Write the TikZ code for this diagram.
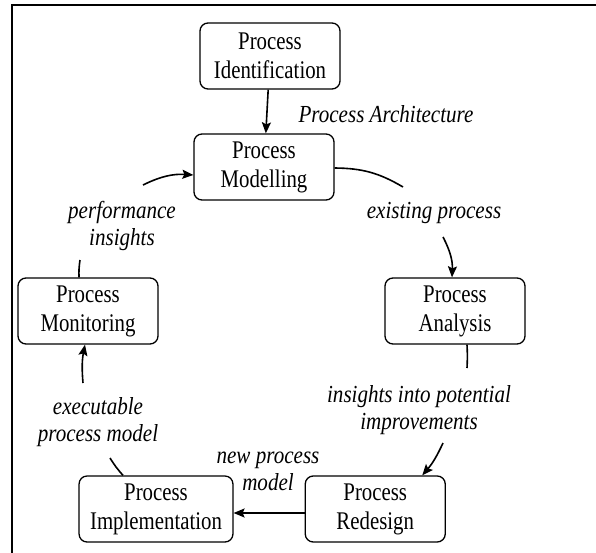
\documentclass[tikz,border=0pt]{standalone}
\usepackage{fontspec}
\setmainfont[FakeStretch=0.82, ItalicFeatures={FakeStretch=0.86}]{Liberation Serif}
\usetikzlibrary{arrows.meta,positioning}

\begin{document}
\begin{tikzpicture}[x=1pt, y=1pt,
  stage/.style={draw, rounded corners=8pt, line width=1.3pt, minimum width=140pt, minimum height=66pt, inner xsep=11pt, align=center, font=\fontsize{25.4}{29}\selectfont},
  tag/.style={align=center, font=\fontsize{24.5}{27}\selectfont\itshape},
  arr/.style={-{Stealth[length=11pt, width=9pt, inset=2pt]}, line width=1.6pt},
  seg/.style={line width=1.6pt}
]
  \useasboundingbox (0,0) rectangle (596,-553);
  \draw[line width=1.5pt] (12,-553) -- (12,-5) -- (596,-5);

  \node[stage] (model) at (264,-167) {Process\\Modelling};
  \node[stage] (ident) at (270,-56) {Process\\Identification};
  \node[stage] (mon) at (88,-311) {Process\\Monitoring};
  \node[stage] (ana) at (455,-311) {Process\\Analysis};
  \node[stage] (impl) at (156,-509) {Process\\Implementation};
  \node[stage, right=71pt of impl] (red) {Process\\Redesign};

  \node[tag] (arch) at (386,-114) {Process Architecture};
  \node[tag] (perf) at (122,-226) {performance\\insights};
  \node[tag] (exist) at (434,-213) {existing process};
  \node[tag] (potent) at (419,-410) {insights into potential\\improvements};
  \node[tag] (newmod) at (268,-471) {new process\\model};
  \node[tag] (exec) at (98,-422) {executable\\process model};

  \coordinate (p1) at (80,-260);
  \coordinate (p2) at (143,-185);
  \coordinate (q1) at (403,-187);
  \coordinate (q2) at (443,-237);
  \coordinate (r1) at (467,-368);
  \coordinate (r2) at (443,-443);
  \coordinate (s1) at (110,-458);
  \coordinate (s2) at (83,-383);

  \draw[arr] (ident) -- (model);
  \draw[seg] ([xshift=-9pt]mon.north) to[bend left=5] (p1);
  \draw[arr] (p2) to[bend left=15] ([yshift=-8pt]model.west);
  \draw[seg] ([yshift=-1pt]model.east) to[bend left=15] (q1);
  \draw[arr] (q2) to[bend left=15] ([xshift=-3pt]ana.north);
  \draw[seg] ([xshift=12pt]ana.south) to[bend left=3] (r1);
  \draw[arr] (r2) to[bend left=8] ([xshift=47pt]red.north);
  \draw[arr] ([yshift=-4pt]red.west) -- ([yshift=-4pt]impl.east);
  \draw[seg] ([xshift=-33pt]impl.north) to[bend left=5] (s1);
  \draw[arr] (s2) to[bend left=8] ([xshift=-3pt]mon.south);
\end{tikzpicture}
\end{document}
